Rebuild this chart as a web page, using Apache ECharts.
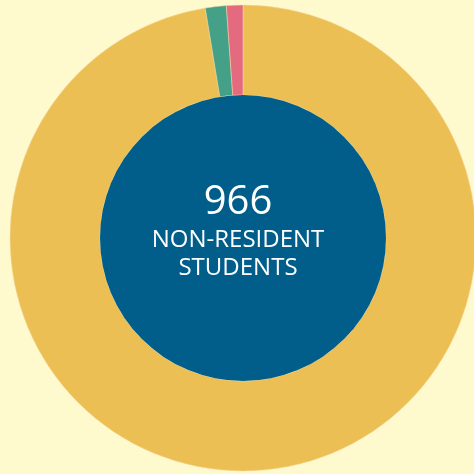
<!DOCTYPE html>
<html>
<head>
<meta charset="utf-8">
<script src="https://cdn.jsdelivr.net/npm/echarts@6/dist/echarts.min.js"></script>
<style>
  html, body { margin: 0; padding: 0; background: #fffacd; }
  #chart { width: 474px; height: 474px; }
</style>
</head>
<body>
<div id="chart"></div>
<script>
// segments, clockwise from 12 o'clock
const segNames = ["Main", "Second", "Third"];
const segValues = [941, 14, 11];
const segColors = ["#ecbf55", "#44a086", "#e46b7f"];
const totalLabel = "966";
const subLabel = ["NON-RESIDENT", "STUDENTS"];

let chart = echarts.init(document.getElementById("chart"));
let option = {
  backgroundColor: "#fffacd",
  animation: false,
  graphic: [
    {
      type: "text",
      x: 238,
      y: 203,
      style: {
        text: totalLabel,
        fill: "#ffffff",
        font: "40px 'Open Sans'",
        align: "center",
        verticalAlign: "middle",
      },
      z: 100,
    },
    {
      type: "text",
      x: 238,
      y: 240,
      style: {
        text: subLabel[0],
        fill: "#ffffff",
        font: "24px 'Open Sans'",
        align: "center",
        verticalAlign: "middle",
      },
      z: 100,
    },
    {
      type: "text",
      x: 238,
      y: 268,
      style: {
        text: subLabel[1],
        fill: "#ffffff",
        font: "24px 'Open Sans'",
        align: "center",
        verticalAlign: "middle",
      },
      z: 100,
    },
  ],
  series: [
    {
      type: "pie",
      center: [243, 238],
      radius: [143, 233],
      startAngle: 90,
      clockwise: true,
      silent: true,
      label: { show: false },
      labelLine: { show: false },
      itemStyle: { borderColor: "#f4d9a0", borderWidth: 0.5 },
      data: segValues.map((v, i) => ({
        name: segNames[i],
        value: v,
        itemStyle: { color: segColors[i] },
      })),
    },
    {
      type: "pie",
      center: [243, 238],
      radius: [0, 143],
      silent: true,
      label: { show: false },
      labelLine: { show: false },
      data: [{ name: "center", value: 1, itemStyle: { color: "#015e8a" } }],
    },
  ],
};
chart.setOption(option);
</script>
</body>
</html>
